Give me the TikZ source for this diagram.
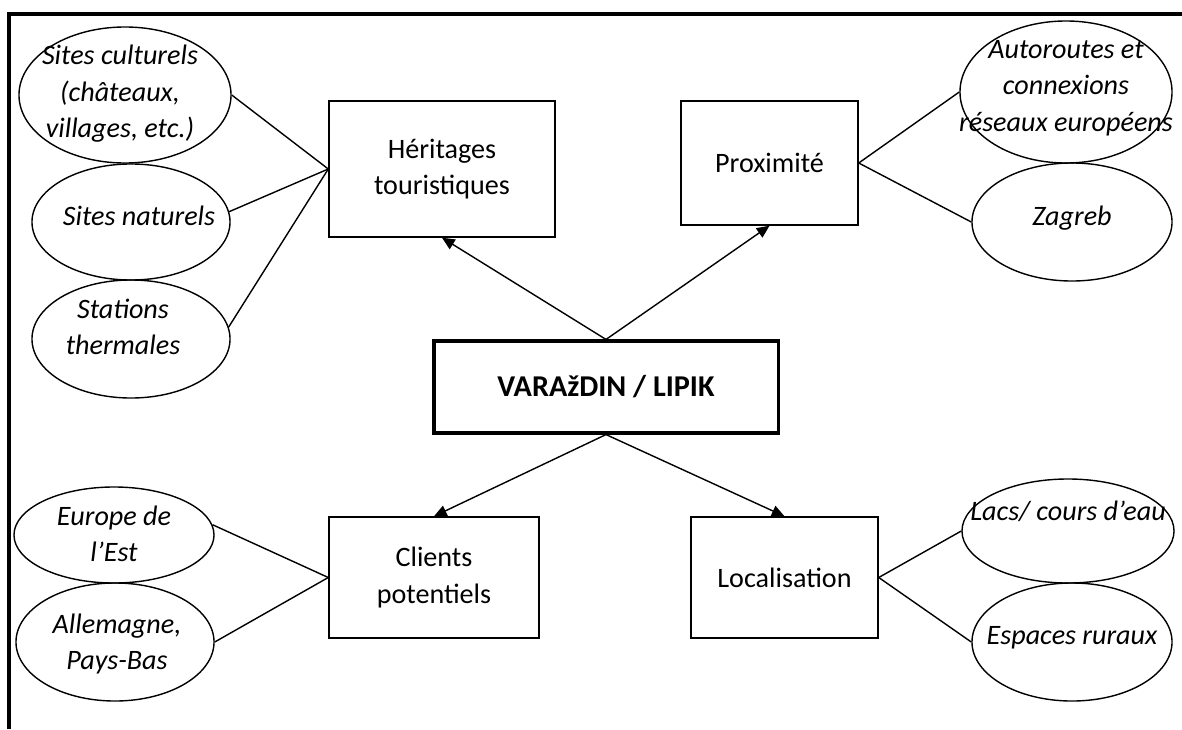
\documentclass[tikz,border=0pt]{standalone}
\usepackage{fontspec}
\setmainfont{Carlito}
\usetikzlibrary{arrows.meta, positioning, shapes.geometric}

\begin{document}
\begin{tikzpicture}[x=0.025cm, y=-0.025cm,
    box/.style={draw, line width=1pt, inner sep=0pt, align=center, font=\fontsize{20}{26}\selectfont},
    hub/.style={draw, line width=2.2pt, inner sep=0pt, font=\fontsize{21.5}{26}\selectfont\bfseries},
    bubble/.style={draw, ellipse, line width=1pt, inner sep=0pt},
    bubbletext/.style={align=center, inner sep=0pt, font=\fontsize{20}{26}\selectfont\itshape},
    link/.style={line width=1pt},
    arrow/.style={line width=1pt, -{Triangle[length=9pt, width=8pt]}}]
    \useasboundingbox (0,0) rectangle (1182,729);
    % Frame
    \draw[line width=2.2pt] (9,729) |- (1182,14);

    % Centre
    \node[hub, minimum width=8.6cm, minimum height=2.3cm] (hub) at (606,387) {VARAžDIN / LIPIK};

    % Boxes
    \node[box, minimum width=5.65cm, minimum height=3.4cm] (heritage) at (442,169) {Héritages\\touristiques};
    \node[box, minimum width=4.425cm, minimum height=3.1cm] (prox) at (769.5,163) {Proximité};
    \node[box, minimum width=5.25cm, minimum height=3.025cm] (clients) at (434,577.5) {Clients\\potentiels};
    \node[box, minimum width=4.675cm, minimum height=3.025cm] (loc) at (784.5,577.5) {Localisation};

    % Ellipses, left top
    \node[bubble, minimum width=5.3cm, minimum height=3.4cm] (cult) at (125,95) {};
    \node[bubbletext] (cult-t) at (120,94) {Sites culturels\\(châteaux,\\villages, etc.)};
    \node[bubble, minimum width=4.95cm, minimum height=2.9cm] (nat) at (131,222) {};
    \node[bubbletext] (nat-t) at (139,216) {Sites naturels};
    \node[bubble, minimum width=4.95cm, minimum height=2.95cm] (therm) at (131,339) {};
    \node[bubbletext] (therm-t) at (123,327) {Stations\\thermales};

    % Ellipses, right top
    \node[bubble, minimum width=5.3cm, minimum height=3.55cm] (auto) at (1066,92) {};
    \node[bubbletext] (auto-t) at (1066,88) {Autoroutes et\\connexions\\réseaux européens};
    \node[bubble, minimum width=5cm, minimum height=2.95cm] (zag) at (1072,222) {};
    \node[bubbletext] (zag-t) at (1072,218) {Zagreb};

    % Ellipses, left bottom
    \node[bubble, minimum width=5cm, minimum height=2.4cm] (est) at (114,535) {};
    \node[bubbletext] (est-t) at (114,534) {Europe de\\l’Est};
    \node[bubble, minimum width=4.95cm, minimum height=2.95cm] (allem) at (115,642) {};
    \node[bubbletext] (allem-t) at (117,644) {Allemagne,\\Pays-Bas};

    % Ellipses, right bottom
    \node[bubble, minimum width=5.3cm, minimum height=2.6cm] (lacs) at (1068,531) {};
    \node[bubbletext] (lacs-t) at (1068,511) {Lacs/ cours d’eau};
    \node[bubble, minimum width=5cm, minimum height=2.95cm] (rur) at (1072,642) {};
    \node[bubbletext] (rur-t) at (1072,638) {Espaces ruraux};

    % Arrows from the centre
    \draw[arrow] (hub.north) -- (heritage.south);
    \draw[arrow] (hub.north) -- (prox.south);
    \draw[arrow] (hub.south) -- (clients.north);
    \draw[arrow] (hub.south) -- (loc.north);

    % Links to the ellipses
    \draw[link] (heritage.west) -- (cult.east);
    \draw[link] (heritage.west) -- (nat.6);
    \draw[link] (heritage.west) -- (therm.7);
    \draw[link] (prox.east) -- (auto.west);
    \draw[link] (prox.east) -- (zag.west);
    \draw[link] (clients.west) -- (est.6);
    \draw[link] (clients.west) -- (allem.east);
    \draw[link] (loc.east) -- (lacs.west);
    \draw[link] (loc.east) -- (rur.west);
\end{tikzpicture}
\end{document}
